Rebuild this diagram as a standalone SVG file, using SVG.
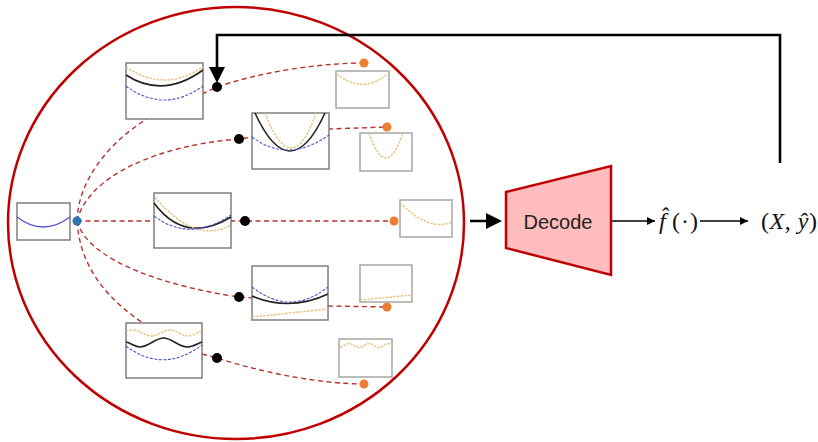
<svg xmlns="http://www.w3.org/2000/svg" width="818" height="442" viewBox="0 0 818 442">
<style>
.frame{fill:#fff;stroke:#7f7f7f;stroke-width:1.5}
.sframe{fill:#fff;stroke:#a6a6a6;stroke-width:1.5}
.dash{fill:none;stroke:#b8312b;stroke-width:1.4;stroke-dasharray:5 3.5}
.cb{fill:none;stroke:#222;stroke-width:1.6}
.co{fill:none;stroke:#e9c584;stroke-width:1.5;stroke-dasharray:2.5 1.2}
.cl{fill:none;stroke:#5252d4;stroke-width:1.1;stroke-dasharray:3 1.5}
.blk{fill:#000}
.org{fill:#ed7d31}
.math{font-family:"Liberation Serif","DejaVu Serif",serif;font-size:24px;fill:#111}
</style>
<defs>
<marker id="ah" markerWidth="8" markerHeight="8" refX="8" refY="4" orient="auto" markerUnits="userSpaceOnUse">
<path d="M0,0 L8,4 L0,8 Z" fill="#000"/>
</marker>
</defs>

<g id="circle">
<ellipse cx="236" cy="223" rx="228" ry="216" fill="none" stroke="#c00000" stroke-width="2.5"/>
</g>

<g id="connectors">
<path class="dash" d="M77,221 C78,180 110,140 152,116"/>
<path class="dash" d="M202,94 L217,87 C260,72 320,63 364,63"/>
<path class="dash" d="M77,221 C88,175 160,145 239,139 L253,137"/>
<path class="dash" d="M328,129 L387,127"/>
<path class="dash" d="M77,221 L394,221"/>
<path class="dash" d="M77,221 C88,262 170,287 239,297 L253,298"/>
<path class="dash" d="M328,306 L387,307"/>
<path class="dash" d="M77,221 C80,268 108,300 146,325"/>
<path class="dash" d="M202,354 L217,358 C260,372 320,384 364,384"/>
<path d="M470,221 L488,221" stroke="#000" stroke-width="2.5"/>
<path d="M486,213 L502,221 L486,229 Z" fill="#000"/>
<path d="M611,221 L655,221" stroke="#000" stroke-width="1.5" marker-end="url(#ah)"/>
<path d="M700,221 L748,221" stroke="#000" stroke-width="1.5" marker-end="url(#ah)"/>
<path d="M780,163 L780,35 L217,35 L217,68" fill="none" stroke="#000" stroke-width="2.6"/>
<path d="M209,67 L225,67 L217,83 Z" fill="#000"/>
</g>

<g id="input">
<rect class="frame" x="17" y="203" width="53" height="37"/>
<path d="M17,217 Q43,237 70,217" fill="none" stroke="#5252d4" stroke-width="1.3"/>
<circle cx="77" cy="221" r="4.5" fill="#2e75b6"/>
</g>

<g id="sample1">
<rect class="frame" x="126" y="63" width="77" height="56"/>
<path class="co" d="M126,67 Q164,93 203,67"/>
<path class="cb" d="M126,75 Q163,99 203,70"/>
<path class="cl" d="M126,86 Q164,114 203,86"/>
<circle class="blk" cx="217" cy="87" r="5"/>
<circle class="org" cx="364" cy="63" r="4.5"/>
<rect class="sframe" x="336" y="71" width="53" height="37"/>
<path class="co" d="M337,74 Q363,95 389,73"/>
</g>

<g id="sample2">
<rect class="frame" x="252" y="113" width="77" height="56"/>
<path class="cb" d="M255,113 Q290,189 325,113"/>
<path class="co" d="M265,113 Q292,183 316,113"/>
<path class="cl" d="M252,137 Q288,164 329,135"/>
<circle class="blk" cx="239" cy="139" r="5"/>
<circle class="org" cx="387" cy="127" r="4.5"/>
<rect class="sframe" x="360" y="133" width="52" height="38"/>
<path class="co" d="M369,133 Q386,183 403,133"/>
</g>

<g id="sample3">
<rect class="frame" x="154" y="193" width="77" height="55"/>
<path class="cb" d="M154,203 Q185,245 231,217"/>
<path class="co" d="M155,197 Q195,245 231,225"/>
<path class="cl" d="M154,216 Q190,243 231,215"/>
<circle class="blk" cx="245" cy="221" r="5"/>
<circle class="org" cx="394" cy="221" r="4.5"/>
<rect class="sframe" x="400" y="200" width="52" height="37"/>
<path class="co" d="M400,203 Q430,232 452,222"/>
</g>

<g id="sample4">
<rect class="frame" x="252" y="266" width="76" height="54"/>
<path class="cl" d="M252,287 Q290,317 328,287"/>
<path class="cb" d="M252,296 Q290,312 328,294"/>
<path class="co" d="M252,317 L328,309"/>
<circle class="blk" cx="239" cy="297" r="5"/>
<circle class="org" cx="387" cy="307" r="4.5"/>
<rect class="sframe" x="360" y="265" width="52" height="37"/>
<path class="co" d="M360,300 L412,295"/>
</g>

<g id="sample5">
<rect class="frame" x="126" y="323" width="76" height="55"/>
<path class="co" d="M126,332 Q129,330 133,330 C139.8,330 144.7,336 151.5,336 C158.3,336 163.2,330 170,330 C176.8,330 181.7,336 188.5,336 C193,336 198,332 202,331"/>
<path class="cb" d="M126,342 C131,343 135,347 140,347 C148,347 155.5,338 163.5,338 C171.5,338 179,347 187,347 C193,347 198,343 202,342"/>
<path class="cl" d="M126,346 Q163,374 202,345"/>
<circle class="blk" cx="217" cy="358" r="5"/>
<circle class="org" cx="364" cy="384" r="4.5"/>
<rect class="sframe" x="339" y="339" width="53" height="38"/>
<path class="co" d="M340,347 C343,347.5 345.5,343.5 349,343.5 C352.6,343.5 355.4,347.5 359,347.5 C362.6,347.5 365.4,343.5 369,343.5 C372.6,343.5 375.4,347.5 379,347.5 C382.6,347.5 385,343.5 388,343.5 C390,343.5 391,345 392,345.5"/>
</g>

<g id="decode">
<path d="M506,192 L611,166 L611,275 L506,248 Z" fill="#ffbdbd" stroke="#c00000" stroke-width="2.5"/>
<text x="558" y="229" text-anchor="middle" font-family="Liberation Sans, Arial, sans-serif" font-size="20" fill="#222">Decode</text>
</g>

<g id="fhat">
<text class="math"><tspan x="659" y="229" font-style="italic">f&#x302;</tspan><tspan x="672" y="229">(</tspan><tspan x="681" y="229">·</tspan><tspan x="690" y="229">)</tspan></text>
</g>

<g id="output">
<text class="math" x="761" y="229" textLength="56" lengthAdjust="spacing">(<tspan font-style="italic">X</tspan>, <tspan font-style="italic">ŷ</tspan>)</text>
</g>
</svg>
